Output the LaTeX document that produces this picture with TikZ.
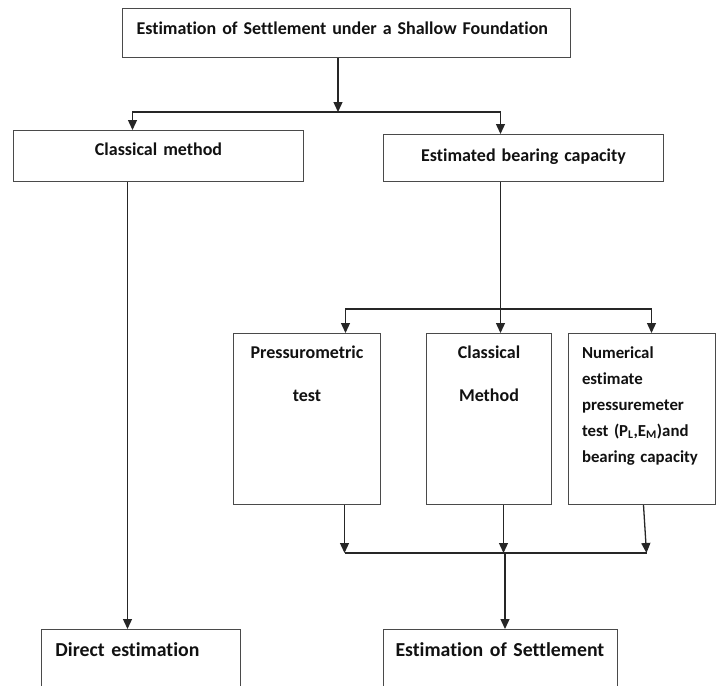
\documentclass[tikz,border=0pt]{standalone}
\usepackage{fontspec}
\setmainfont{Carlito}[Ligatures={NoCommon}]
\usepackage{tikz}
\usepackage{xcolor}
\usetikzlibrary{positioning, arrows.meta}
\definecolor{boxline}{HTML}{4a4a4a}
\definecolor{textcol}{HTML}{111111}
\tikzstyle{process} = [rectangle, anchor=north west, draw=boxline, line width=1pt, inner ysep=0pt, text=textcol, font=\fontsize{18}{26}\selectfont\bfseries]
\tikzstyle{process2} = [process, inner xsep=8pt, align=center, text height=24.5pt, text depth=146.5pt]
\tikzstyle{process3} = [process, align=left, text height=26.5pt, text depth=64.5pt, font=\fontsize{19.8}{26}\selectfont\bfseries]
\tikzstyle{arrow} = [line width=1.3pt, draw=black!85, -{Triangle[width=9pt,length=10pt]}]
\tikzstyle{link} = [line width=1.3pt, draw=black!85]

\begin{document}
\begin{tikzpicture}[x=1pt, y=-1pt]
    \useasboundingbox (0,0) rectangle (716,686);

    \node (box1) [process, align=left, inner xsep=14pt, text width=420pt, text height=25.5pt, text depth=23.5pt] at (122,8) {Estimation of Settlement under a Shallow Foundation};

    \node (box2) [process, align=center, inner xsep=14pt, text width=262pt, text height=24.5pt, text depth=26.5pt] at (13,130) {Classical method};

    \node (box3) [process, align=center, inner xsep=14pt, text width=252pt, text height=26.5pt, text depth=20.5pt] at (383,134) {Estimated bearing capacity};

    \node (box4) [process2, text width=131pt] at (233,333) {Pressurometric\\[17pt]test};

    \node (box5) [process2, text width=109pt] at (426,333) {Classical\\[17pt]Method};

    \node (box6) [process2, align=left, inner xsep=13.5pt, text width=120pt, font=\fontsize{16.8}{26.1}\selectfont\bfseries] at (568,333) {Numerical\\
    estimate\\
    pressuremeter\\
    test (P\textsubscript{L},E\textsubscript{M})and\\
    bearing capacity};

    \node (box7) [process3, inner xsep=14pt, text width=171pt] at (41,629) {Direct estimation};

    \node (box8) [process3, inner xsep=12pt, text width=210pt] at (383,629) {Estimation of Settlement};

    \coordinate (fork1) at (338,112);
    \coordinate (fork2) at (500,309);
    \coordinate (join1) at (505,553);

    \draw[arrow] (box1.south -| fork1)--(fork1);
    \draw[arrow] (fork1) -| ([xshift=-26pt]box2.north);
    \draw[arrow] (fork1) -| ([xshift=-23pt]box3.north);

    \draw[arrow] ([xshift=-31pt]box2.south)--([xshift=-31pt]box2.south |- box7.north);

    \draw[arrow] ([xshift=-23pt]box3.south)--([xshift=-23pt]box3.south |- box5.north);
    \draw[arrow] (fork2) -| ([xshift=38.5pt]box4.north);
    \draw[arrow] (fork2) -| ([xshift=9.5pt]box6.north);

    \draw[arrow] ([xshift=37.5pt]box4.south)--([xshift=37.5pt]box4.south |- join1);
    \draw[arrow] ([xshift=14.5pt]box5.south)--([xshift=14.5pt]box5.south |- join1);
    \draw[arrow] ([xshift=1.5pt]box6.south)--([xshift=4.5pt]box6.south |- join1);
    \draw[link] ([xshift=37.5pt]box4.south |- join1)--([xshift=4.5pt]box6.south |- join1);
    \draw[arrow] (join1)--(join1 |- box8.north);

\end{tikzpicture}
\end{document}
